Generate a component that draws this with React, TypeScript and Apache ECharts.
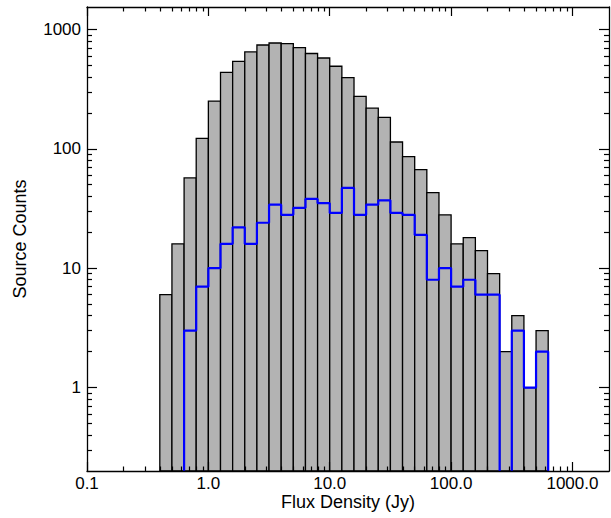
import React, { useEffect, useRef } from 'react';
import * as echarts from 'echarts';

// Histogram bin edges (Jy), 0.1 dex wide
const binEdges = [
  0.398, 0.501, 0.631, 0.794, 1.0, 1.259, 1.585, 1.995, 2.512, 3.162, 3.981,
  5.012, 6.31, 7.943, 10.0, 12.59, 15.85, 19.95, 25.12, 31.62, 39.81, 50.12,
  63.1, 79.43, 100.0, 125.9, 158.5, 199.5, 251.2, 316.2, 398.1, 501.2, 631.0,
];
// All sources (grey histogram)
const allCounts = [
  6, 16, 57, 122, 251, 437, 540, 647, 740, 769, 759, 703, 628, 576, 491, 394,
  275, 219, 183, 114, 86, 67, 43, 28, 16, 18, 14, 9, 2, 4, 1, 3,
];
// Sub-sample (blue step line)
const subCounts = [
  0, 0, 3, 7, 10, 16, 22, 16, 24, 34, 28, 32, 38, 35, 29, 47, 28, 34, 37, 29,
  28, 19, 8, 10, 7, 8, 6, 6, 0, 3, 1, 2,
];

const xMajorTicks = [0.1, 1, 10, 100, 1000];
const xTickLabels = ['0.1', '1.0', '10.0', '100.0', '1000.0'];
const xMinorTicks = [
  0.2, 0.3, 0.4, 0.5, 0.6, 0.7, 0.8, 0.9, 2, 3, 4, 5, 6, 7, 8, 9, 20, 30, 40,
  50, 60, 70, 80, 90, 200, 300, 400, 500, 600, 700, 800, 900,
];
const yMajorTicks = [1, 10, 100, 1000];
const yTickLabels = ['1', '10', '100', '1000'];
const yMinorTicks = [
  0.3, 0.4, 0.5, 0.6, 0.7, 0.8, 0.9, 2, 3, 4, 5, 6, 7, 8, 9, 20, 30, 40, 50,
  60, 70, 80, 90, 200, 300, 400, 500, 600, 700, 800, 900,
];

const X_MIN = 0.1;
const X_MAX = 2000;
const Y_MIN = 0.2;
const Y_MAX = 1540;
const FLOOR = 0.05; // below the axis: zero counts drop out of view

const FONT = "'Liberation Sans', Arial, Helvetica, sans-serif";
const AXIS_COLOR = '#000';

function lookup(ticks: number[], labels: string[], v: number) {
  for (let i = 0; i < ticks.length; i++) {
    if (Math.abs(ticks[i] - v) / ticks[i] < 1e-6) return labels[i];
  }
  return '';
}

function makeAxis(
  dim: 'x' | 'y',
  position: string,
  major: boolean,
  withLine: boolean,
  withLabels: boolean,
) {
  const isX = dim === 'x';
  const ticks = isX ? (major ? xMajorTicks : xMinorTicks) : major ? yMajorTicks : yMinorTicks;
  const len = isX ? (major ? 9 : 4.5) : major ? 10 : 5;
  const ax: any = {
    type: 'log',
    logBase: 10,
    position,
    min: isX ? X_MIN : Y_MIN,
    max: isX ? X_MAX : Y_MAX,
    z: 5,
    axisLine: {
      show: withLine,
      onZero: false,
      lineStyle: { color: AXIS_COLOR, width: 1.3 },
    },
    axisTick: {
      show: true,
      inside: true,
      length: len,
      customValues: ticks,
      lineStyle: { color: AXIS_COLOR, width: 1.2 },
    },
    minorTick: { show: false },
    splitLine: { show: false },
    minorSplitLine: { show: false },
    axisLabel: { show: false },
  };
  if (withLabels) {
    ax.axisLabel = {
      show: true,
      customValues: isX ? xMajorTicks : yMajorTicks,
      formatter: (v: number) =>
        isX ? lookup(xMajorTicks, xTickLabels, v) : lookup(yMajorTicks, yTickLabels, v),
      color: '#000',
      fontSize: 17,
      fontFamily: FONT,
      margin: isX ? 3.5 : 6,
    };
    ax.name = isX ? 'Flux Density (Jy)' : 'Source Counts';
    ax.nameLocation = 'middle';
    ax.nameGap = isX ? 21.5 : 58;
    ax.nameMoveOverlap = false;
    ax.nameTextStyle = { color: '#000', fontSize: 18, fontFamily: FONT };
  }
  return ax;
}

export default function App() {
  const ref = useRef<HTMLDivElement>(null);

  useEffect(() => {
    if (!ref.current) return;
    const chart = echarts.init(ref.current, null, { renderer: 'svg' });

    const barData = allCounts.map((c, i) => [binEdges[i], binEdges[i + 1], c]);
    const stepData = binEdges.map((e, i) => [
      e,
      i < subCounts.length && subCounts[i] > 0 ? subCounts[i] : FLOOR,
    ]);

    const option: any = {
      animation: false,
      backgroundColor: '#fff',
      grid: {
        left: 87,
        right: 2,
        top: 7,
        bottom: 47,
        containLabel: false,
        outerBoundsMode: 'none',
      },
      xAxis: [
        makeAxis('x', 'bottom', true, true, true),
        makeAxis('x', 'bottom', false, false, false),
        makeAxis('x', 'top', true, true, false),
        makeAxis('x', 'top', false, false, false),
      ],
      yAxis: [
        makeAxis('y', 'left', true, true, true),
        makeAxis('y', 'left', false, false, false),
        makeAxis('y', 'right', true, true, false),
        makeAxis('y', 'right', false, false, false),
      ],
      series: [
        {
          type: 'custom',
          name: 'All sources',
          xAxisIndex: 0,
          yAxisIndex: 0,
          encode: { x: [0, 1], y: 2 },
          data: barData,
          renderItem: (params: any, api: any) => {
            const p0 = api.coord([api.value(0), api.value(2)]);
            const p1 = api.coord([api.value(1), Y_MIN]);
            return {
              type: 'rect',
              shape: {
                x: p0[0],
                y: p0[1],
                width: p1[0] - p0[0],
                height: p1[1] - p0[1],
              },
              style: { fill: '#b3b3b3', stroke: '#000', lineWidth: 1.3 },
            };
          },
        },
        {
          type: 'line',
          name: 'Subsample',
          xAxisIndex: 0,
          yAxisIndex: 0,
          step: 'end',
          data: stepData,
          showSymbol: false,
          symbol: 'none',
          clip: true,
          z: 3,
          lineStyle: { color: '#0000ff', width: 2.2 },
        },
      ],
    };

    chart.setOption(option);
    return () => chart.dispose();
  }, []);

  return (
    <div
      ref={ref}
      style={{
        position: 'fixed',
        left: 0,
        top: 0,
        width: 611,
        height: 518,
        background: '#fff',
      }}
    />
  );
}
